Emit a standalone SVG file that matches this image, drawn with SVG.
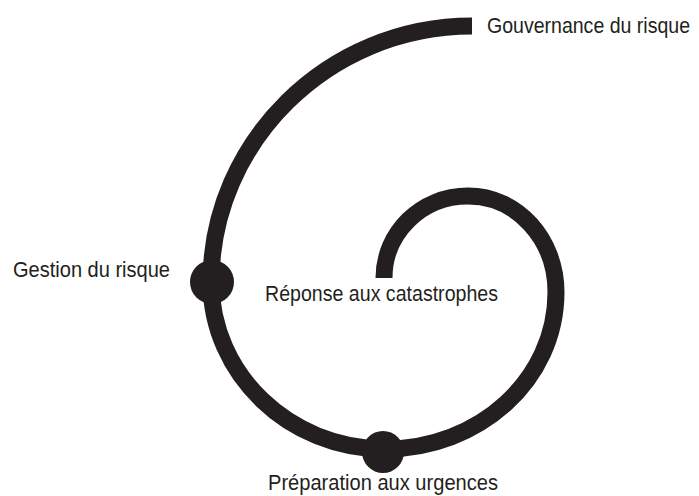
<svg xmlns="http://www.w3.org/2000/svg" width="699" height="496" viewBox="0 0 699 496">
<style>
.lbl{font-family:"Liberation Sans Narrow","Liberation Sans",Arial,sans-serif;font-size:22.5px;fill:#231f20}
.spiral{fill:none;stroke:#231f20;stroke-width:17;stroke-linecap:butt}
.dot{fill:#231f20}
</style>
<rect width="699" height="496" fill="#ffffff"/>
<g id="connectors">
<path class="spiral" d="M 472 26 C 328 26 211 142 211 282 C 211 374 289 449 385 449 C 479 449 556 380 556 292 C 556 240 518 196 468 196 C 421 196 384 233 384 278"/>
</g>
<g id="node-gouvernance">
<text class="lbl" transform="translate(487,33) scale(1,1.12)" x="0" y="0" style="font-size:20px" textLength="203" lengthAdjust="spacingAndGlyphs">Gouvernance du risque</text>
</g>
<g id="node-gestion">
<circle class="dot" cx="212" cy="282" r="22"/>
<text class="lbl" x="13" y="277" textLength="157" lengthAdjust="spacingAndGlyphs">Gestion du risque</text>
</g>
<g id="node-reponse">
<text class="lbl" x="265" y="301" textLength="233" lengthAdjust="spacingAndGlyphs">Réponse aux catastrophes</text>
</g>
<g id="node-preparation">
<circle class="dot" cx="383" cy="452" r="21"/>
<text class="lbl" x="268" y="490" textLength="230" lengthAdjust="spacingAndGlyphs">Préparation aux urgences</text>
</g>
</svg>
